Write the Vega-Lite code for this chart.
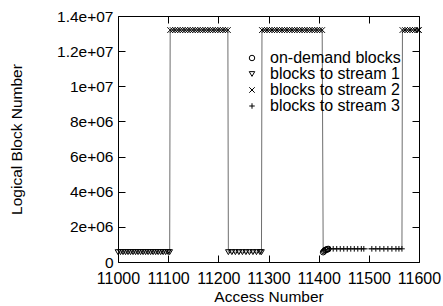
{
  "$schema": "https://vega.github.io/schema/vega-lite/v6.json",
  "width": 301,
  "height": 246,
  "autosize": {"type": "none"},
  "padding": {"left": 118, "top": 16, "right": 24, "bottom": 44},
  "background": "white",
  "config": {
    "font": "Liberation Sans",
    "view": {"stroke": "black", "strokeWidth": 1},
    "axis": {
      "grid": false,
      "domain": false,
      "tickColor": "black",
      "tickSize": -7,
      "labelFlush": false,
      "labelOverlap": false,
      "labelFont": "Liberation Sans",
      "labelFontSize": 16,
      "labelColor": "black",
      "titleFont": "Liberation Sans",
      "titleFontSize": 15.5,
      "titleFontWeight": "normal",
      "titleColor": "black"
    },
    "legend": {
      "labelFont": "Liberation Sans",
      "labelFontSize": 16,
      "labelColor": "black"
    }
  },
  "data": {
    "values": [
      {"x": 11000, "y": 560000, "s": "blocks to stream 1"},
      {"x": 11005, "y": 560000, "s": "blocks to stream 1"},
      {"x": 11010, "y": 560000, "s": "blocks to stream 1"},
      {"x": 11015, "y": 560000, "s": "blocks to stream 1"},
      {"x": 11020, "y": 560000, "s": "blocks to stream 1"},
      {"x": 11025, "y": 560000, "s": "blocks to stream 1"},
      {"x": 11030, "y": 560000, "s": "blocks to stream 1"},
      {"x": 11035, "y": 560000, "s": "blocks to stream 1"},
      {"x": 11040, "y": 560000, "s": "blocks to stream 1"},
      {"x": 11045, "y": 560000, "s": "blocks to stream 1"},
      {"x": 11050, "y": 560000, "s": "blocks to stream 1"},
      {"x": 11055, "y": 560000, "s": "blocks to stream 1"},
      {"x": 11060, "y": 560000, "s": "blocks to stream 1"},
      {"x": 11065, "y": 560000, "s": "blocks to stream 1"},
      {"x": 11070, "y": 560000, "s": "blocks to stream 1"},
      {"x": 11075, "y": 560000, "s": "blocks to stream 1"},
      {"x": 11080, "y": 560000, "s": "blocks to stream 1"},
      {"x": 11085, "y": 560000, "s": "blocks to stream 1"},
      {"x": 11090, "y": 560000, "s": "blocks to stream 1"},
      {"x": 11095, "y": 560000, "s": "blocks to stream 1"},
      {"x": 11100, "y": 560000, "s": "blocks to stream 1"},
      {"x": 11103, "y": 560000, "s": "blocks to stream 1"},
      {"x": 11104, "y": 13200000, "s": "blocks to stream 2"},
      {"x": 11109, "y": 13200000, "s": "blocks to stream 2"},
      {"x": 11114, "y": 13200000, "s": "blocks to stream 2"},
      {"x": 11119, "y": 13200000, "s": "blocks to stream 2"},
      {"x": 11124, "y": 13200000, "s": "blocks to stream 2"},
      {"x": 11129, "y": 13200000, "s": "blocks to stream 2"},
      {"x": 11134, "y": 13200000, "s": "blocks to stream 2"},
      {"x": 11139, "y": 13200000, "s": "blocks to stream 2"},
      {"x": 11144, "y": 13200000, "s": "blocks to stream 2"},
      {"x": 11149, "y": 13200000, "s": "blocks to stream 2"},
      {"x": 11154, "y": 13200000, "s": "blocks to stream 2"},
      {"x": 11159, "y": 13200000, "s": "blocks to stream 2"},
      {"x": 11164, "y": 13200000, "s": "blocks to stream 2"},
      {"x": 11169, "y": 13200000, "s": "blocks to stream 2"},
      {"x": 11174, "y": 13200000, "s": "blocks to stream 2"},
      {"x": 11179, "y": 13200000, "s": "blocks to stream 2"},
      {"x": 11184, "y": 13200000, "s": "blocks to stream 2"},
      {"x": 11189, "y": 13200000, "s": "blocks to stream 2"},
      {"x": 11194, "y": 13200000, "s": "blocks to stream 2"},
      {"x": 11199, "y": 13200000, "s": "blocks to stream 2"},
      {"x": 11204, "y": 13200000, "s": "blocks to stream 2"},
      {"x": 11209, "y": 13200000, "s": "blocks to stream 2"},
      {"x": 11214, "y": 13200000, "s": "blocks to stream 2"},
      {"x": 11219, "y": 13200000, "s": "blocks to stream 2"},
      {"x": 11220, "y": 560000, "s": "blocks to stream 1"},
      {"x": 11227, "y": 560000, "s": "blocks to stream 1"},
      {"x": 11234, "y": 560000, "s": "blocks to stream 1"},
      {"x": 11241, "y": 560000, "s": "blocks to stream 1"},
      {"x": 11248, "y": 560000, "s": "blocks to stream 1"},
      {"x": 11255, "y": 560000, "s": "blocks to stream 1"},
      {"x": 11262, "y": 560000, "s": "blocks to stream 1"},
      {"x": 11269, "y": 560000, "s": "blocks to stream 1"},
      {"x": 11276, "y": 560000, "s": "blocks to stream 1"},
      {"x": 11283, "y": 560000, "s": "blocks to stream 1"},
      {"x": 11286, "y": 560000, "s": "blocks to stream 1"},
      {"x": 11287, "y": 13200000, "s": "blocks to stream 2"},
      {"x": 11292, "y": 13200000, "s": "blocks to stream 2"},
      {"x": 11297, "y": 13200000, "s": "blocks to stream 2"},
      {"x": 11302, "y": 13200000, "s": "blocks to stream 2"},
      {"x": 11307, "y": 13200000, "s": "blocks to stream 2"},
      {"x": 11312, "y": 13200000, "s": "blocks to stream 2"},
      {"x": 11317, "y": 13200000, "s": "blocks to stream 2"},
      {"x": 11322, "y": 13200000, "s": "blocks to stream 2"},
      {"x": 11327, "y": 13200000, "s": "blocks to stream 2"},
      {"x": 11332, "y": 13200000, "s": "blocks to stream 2"},
      {"x": 11337, "y": 13200000, "s": "blocks to stream 2"},
      {"x": 11342, "y": 13200000, "s": "blocks to stream 2"},
      {"x": 11347, "y": 13200000, "s": "blocks to stream 2"},
      {"x": 11352, "y": 13200000, "s": "blocks to stream 2"},
      {"x": 11357, "y": 13200000, "s": "blocks to stream 2"},
      {"x": 11362, "y": 13200000, "s": "blocks to stream 2"},
      {"x": 11367, "y": 13200000, "s": "blocks to stream 2"},
      {"x": 11372, "y": 13200000, "s": "blocks to stream 2"},
      {"x": 11377, "y": 13200000, "s": "blocks to stream 2"},
      {"x": 11382, "y": 13200000, "s": "blocks to stream 2"},
      {"x": 11387, "y": 13200000, "s": "blocks to stream 2"},
      {"x": 11392, "y": 13200000, "s": "blocks to stream 2"},
      {"x": 11397, "y": 13200000, "s": "blocks to stream 2"},
      {"x": 11402, "y": 13200000, "s": "blocks to stream 2"},
      {"x": 11407, "y": 13200000, "s": "blocks to stream 2"},
      {"x": 11409, "y": 560000, "s": "on-demand blocks"},
      {"x": 11411, "y": 620000, "s": "on-demand blocks"},
      {"x": 11413, "y": 680000, "s": "on-demand blocks"},
      {"x": 11415, "y": 700000, "s": "on-demand blocks"},
      {"x": 11417, "y": 720000, "s": "on-demand blocks"},
      {"x": 11419, "y": 740000, "s": "on-demand blocks"},
      {"x": 11422, "y": 750000, "s": "blocks to stream 3"},
      {"x": 11429, "y": 750000, "s": "blocks to stream 3"},
      {"x": 11436, "y": 750000, "s": "blocks to stream 3"},
      {"x": 11443, "y": 750000, "s": "blocks to stream 3"},
      {"x": 11450, "y": 750000, "s": "blocks to stream 3"},
      {"x": 11457, "y": 750000, "s": "blocks to stream 3"},
      {"x": 11464, "y": 750000, "s": "blocks to stream 3"},
      {"x": 11471, "y": 750000, "s": "blocks to stream 3"},
      {"x": 11478, "y": 750000, "s": "blocks to stream 3"},
      {"x": 11485, "y": 750000, "s": "blocks to stream 3"},
      {"x": 11490, "y": 750000, "s": "blocks to stream 3"},
      {"x": 11506, "y": 750000, "s": "blocks to stream 3"},
      {"x": 11514, "y": 750000, "s": "blocks to stream 3"},
      {"x": 11522, "y": 750000, "s": "blocks to stream 3"},
      {"x": 11530, "y": 750000, "s": "blocks to stream 3"},
      {"x": 11538, "y": 750000, "s": "blocks to stream 3"},
      {"x": 11546, "y": 750000, "s": "blocks to stream 3"},
      {"x": 11554, "y": 750000, "s": "blocks to stream 3"},
      {"x": 11560, "y": 750000, "s": "blocks to stream 3"},
      {"x": 11566, "y": 750000, "s": "blocks to stream 3"},
      {"x": 11567, "y": 13200000, "s": "blocks to stream 2"},
      {"x": 11572, "y": 13200000, "s": "blocks to stream 2"},
      {"x": 11577, "y": 13200000, "s": "blocks to stream 2"},
      {"x": 11582, "y": 13200000, "s": "blocks to stream 2"},
      {"x": 11587, "y": 13200000, "s": "blocks to stream 2"},
      {"x": 11592, "y": 13200000, "s": "blocks to stream 2"},
      {"x": 11597, "y": 13200000, "s": "blocks to stream 2"},
      {"x": 11600, "y": 13200000, "s": "blocks to stream 2"}
    ]
  },
  "layer": [
    {
      "mark": {"type": "line", "color": "#6e6e6e", "strokeWidth": 1},
      "encoding": {
        "x": {
          "field": "x", "type": "quantitative",
          "scale": {"domain": [11000, 11600], "nice": false, "zero": false},
          "axis": {"orient": "bottom", "values": [11000, 11100, 11200, 11300, 11400, 11500, 11600], "format": "d", "title": "Access Number", "labelPadding": 15, "titlePadding": 3}
        },
        "y": {
          "field": "y", "type": "quantitative",
          "scale": {"domain": [0, 14000000], "nice": false},
          "axis": {"orient": "left", "values": [0, 2000000, 4000000, 6000000, 8000000, 10000000, 12000000, 14000000],
            "labelExpr": "datum.value == 0 ? '0' : (datum.value < 10000000 ? format(datum.value/1000000, '~g') + 'e+06' : format(datum.value/10000000, '~g') + 'e+07')",
            "labelFontSize": 15.5,
            "title": "Logical Block Number", "labelPadding": 12, "titlePadding": 32}
        },
        "order": {"field": "x", "type": "quantitative"}
      }
    },
    {
      "mark": {"type": "point", "filled": false, "stroke": "black", "strokeWidth": 1, "size": 32, "opacity": 1},
      "encoding": {
        "x": {"field": "x", "type": "quantitative", "axis": {"orient": "top", "values": [11000, 11100, 11200, 11300, 11400, 11500, 11600], "labels": false, "title": null}},
        "y": {"field": "y", "type": "quantitative", "axis": {"orient": "right", "values": [0, 2000000, 4000000, 6000000, 8000000, 10000000, 12000000, 14000000], "labels": false, "title": null}},
        "shape": {
          "field": "s", "type": "nominal",
          "scale": {
            "domain": ["on-demand blocks", "blocks to stream 1", "blocks to stream 2", "blocks to stream 3"],
            "range": ["circle", "triangle-down", "M-1,-1L1,1M-1,1L1,-1", "M-1,0L1,0M0,-1L0,1"]
          },
          "legend": {
            "title": null, "orient": "none", "legendX": 126, "legendY": 34,
            "symbolSize": 30, "symbolStrokeColor": "black", "symbolStrokeWidth": 1, "symbolFillColor": "transparent",
            "labelOffset": 10, "rowPadding": -3, "padding": 0
          }
        }
      }
    }
  ],
  "resolve": {"axis": {"x": "independent", "y": "independent"}}
}
